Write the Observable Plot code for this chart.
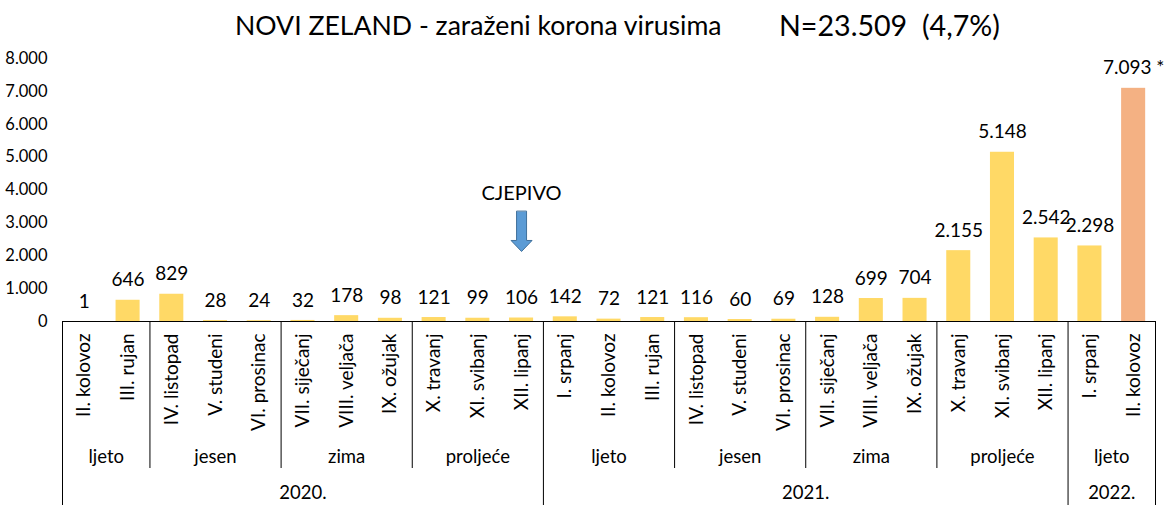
<!DOCTYPE html>
<html><head><meta charset="utf-8">
<script src="https://cdn.jsdelivr.net/npm/d3@7"></script>
<script src="https://cdn.jsdelivr.net/npm/@observablehq/plot@0.6"></script>
<style>
body{margin:0;background:#fff;}
#wrap{position:relative;width:1168px;height:512px;color:#000;}
#wrap svg{display:block;}
.t{position:absolute;white-space:pre;font-family:Lato,sans-serif;color:#000;line-height:1;}
</style></head><body>
<div id="wrap"></div>
<script>
// ---- data ----
const months = ["II. kolovoz","III. rujan","IV. listopad","V. studeni","VI. prosinac","VII. siječanj","VIII. veljača","IX. ožujak","X. travanj","XI. svibanj","XII. lipanj",
                "I. srpanj","II. kolovoz","III. rujan","IV. listopad","V. studeni","VI. prosinac","VII. siječanj","VIII. veljača","IX. ožujak","X. travanj","XI. svibanj","XII. lipanj",
                "I. srpanj","II. kolovoz"];
const cases = [1,646,829,28,24,32,178,98,121,99,106,142,72,121,116,60,69,128,699,704,2155,5148,2542,2298,7093];
const incomplete = [false,false,false,false,false,false,false,false,false,false,false,false,false,false,false,false,false,false,false,false,false,false,false,false,true];
const seasons = ["ljeto","jesen","zima","proljeće","ljeto","jesen","zima","proljeće","ljeto"];
const seasonLengths = [2,3,3,3,3,3,3,3,2];
const years = ["2020.","2021.","2022."];
const yearLengths = [11,12,2];
const yTicks = [0,1000,2000,3000,4000,5000,6000,7000,8000];
const titleText = "NOVI ZELAND - zaraženi korona virusima";
const shareText = "(4,7%)";
const vaccineLabel = "CJEPIVO";
const vaccineMonth = 10;      // index of month where vaccination arrow points
const vaccineArrowTip = 2130; // y value of arrow tip
const vaccineLabelY = 3900;   // y value of label

// ---- build ----
const fmt = d3.formatLocale({decimal:",",thousands:".",grouping:[3],currency:["",""]}).format(",d");
const data = months.map((m,i)=>({i, month:m, value:cases[i], partial:incomplete[i]}));
function groups(names, lengths){let s=0;return names.map((n,k)=>{const g={name:n,start:s,end:s+lengths[k]};s+=lengths[k];return g;});}
const seasonGroups = groups(seasons, seasonLengths);
const yearGroups = groups(years, yearLengths);
const yearBounds = [0, ...yearGroups.map(g=>g.end)];
const seasonBounds = seasonGroups.map(g=>g.start).filter(s=>!yearBounds.includes(s));

const FONT = "Lato, sans-serif";
const W = 1168, ML = 62, MR = 13;
const xScale = {type:"linear", domain:[0, months.length]};

const blockArrow = {
  draw(context, l) {
    const h = 11, hw = 10.5, sw = 5;
    context.moveTo(-sw, 0);
    context.lineTo(-sw, -(l - h));
    context.lineTo(-hw, -(l - h));
    context.lineTo(0, -l);
    context.lineTo(hw, -(l - h));
    context.lineTo(sw, -(l - h));
    context.lineTo(sw, 0);
    context.closePath();
  }
};

const chartTop = Plot.plot({
  width: W, height: 321, marginLeft: ML, marginRight: MR, marginTop: 58, marginBottom: 0,
  x: {...xScale, axis: null},
  y: {domain: [0, 8000]},
  color: {type: "identity"},
  style: {fontFamily: FONT, fontSize: "16px", background: "transparent", color: "#000", overflow: "visible"},
  marks: [
    Plot.axisY({ticks: yTicks, tickFormat: fmt, tickSize: 0, tickPadding: 15, fontSize: 16.5, label: null}),
    Plot.rectY(data, {x1: d => d.i + 0.225, x2: d => d.i + 0.775, y1: 0, y2: "value",
      fill: d => d.partial ? "#F4B183" : "#FFD966"}),
    Plot.text(data, {x: d => d.i + 0.5, y: "value", text: d => fmt(d.value) + (d.partial ? " *" : ""),
      dy: -20, fontSize: 19, fill: "#000"}),
    Plot.vector([{x: vaccineMonth + 0.5, y: vaccineArrowTip}], {x: "x", y: "y", length: 40, rotate: 180,
      anchor: "end", shape: blockArrow, fill: "#5B9BD5", stroke: "#41719C", strokeWidth: 1}),
    Plot.text([{x: vaccineMonth + 0.5, y: vaccineLabelY, t: vaccineLabel}], {x: "x", y: "y", text: "t",
      fontSize: 20, fill: "#000"})
  ]
});

const chartBottom = Plot.plot({
  width: W, height: 191, marginLeft: ML, marginRight: MR, marginTop: 0, marginBottom: 0,
  x: {...xScale, axis: null},
  y: {domain: [0, 191], range: [0, 191], axis: null},
  style: {fontFamily: FONT, fontSize: "18px", background: "transparent", color: "#000"},
  marks: [
    Plot.ruleY([0], {stroke: "#000"}),
    Plot.ruleX(seasonBounds, {x: d => d, y1: 0, y2: 147, stroke: "#000"}),
    Plot.ruleX(yearBounds, {x: d => d, y1: 0, y2: 184, stroke: "#000"}),
    Plot.text(data, {x: d => d.i + 0.5, y: 12, text: "month", rotate: -90, textAnchor: "end",
      lineAnchor: "middle", fontSize: 19, fill: "#000"}),
    Plot.text(seasonGroups, {x: d => (d.start + d.end) / 2, y: 136, text: "name", fontSize: 18.5, fill: "#000"}),
    Plot.text(yearGroups, {x: d => (d.start + d.end) / 2, y: 172, text: "name", fontSize: 18.5, fill: "#000"})
  ]
});

const wrap = document.getElementById("wrap");
wrap.appendChild(chartTop);
wrap.appendChild(chartBottom);

// title (HTML, above the chart)
function addTitle(text, left, targetWidth, cy) {
  const s = document.createElement("div");
  s.className = "t";
  s.textContent = text;
  s.style.fontSize = "26px";
  wrap.appendChild(s);
  const w = s.getBoundingClientRect().width;
  const fs = 26 * targetWidth / w;
  s.style.fontSize = fs + "px";
  s.style.left = left + "px";
  const h = s.getBoundingClientRect().height;
  s.style.top = (cy - h / 2) + "px";
}
addTitle(titleText, 235, 487, 25);
addTitle("N=" + fmt(d3.sum(cases)) + "  " + shareText, 779, 221, 25);
</script>
</body></html>
